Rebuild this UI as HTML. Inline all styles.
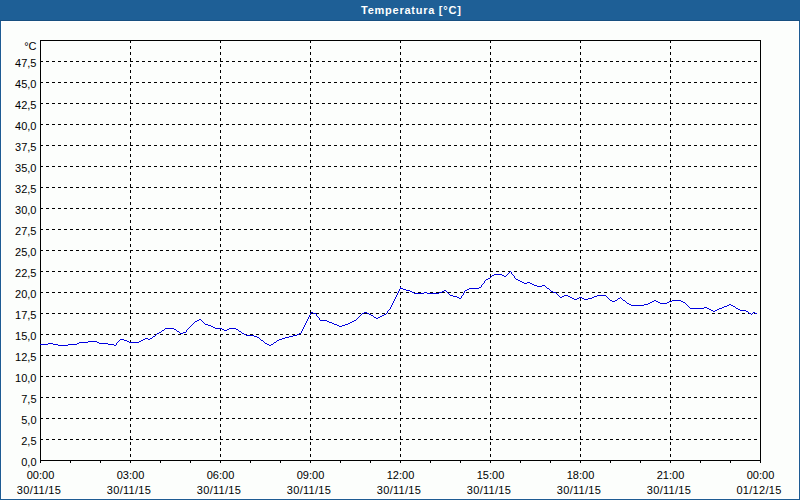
<!DOCTYPE html>
<html><head><meta charset="utf-8"><style>
html,body{margin:0;padding:0;background:#fcfefc;}
body{width:800px;height:500px;overflow:hidden;position:relative;font-family:"Liberation Sans",sans-serif;}
#frame{position:absolute;left:0;top:0;width:798px;height:499px;border:1px solid #1d5c93;border-top:0;background:#fcfefc;}
#inner{position:absolute;left:1px;top:21px;width:796px;height:476px;border:1px solid #fff;}
#hdr{position:absolute;left:0;top:0;width:800px;height:20px;background:#1e5f96;border-bottom:1px solid #174f80;}
#title{position:absolute;left:0;top:0;width:800px;height:21px;}
svg{position:absolute;left:0;top:0;}
.g{stroke:#000;stroke-width:1;stroke-dasharray:3 3;shape-rendering:crispEdges;}
.a{stroke:#000;stroke-width:1;shape-rendering:crispEdges;}
text{font-family:"Liberation Sans",sans-serif;font-size:11px;fill:#000;}
.t{font-weight:bold;fill:#fff;}
</style></head><body>
<div id="frame"></div><div id="inner"></div>
<div id="hdr"></div>
<svg width="800" height="500" viewBox="0 0 800 500">
<text class="t" x="361" y="14" style="letter-spacing:0.75px">Temperatura [°C]</text>
<line x1="40" y1="439.5" x2="760" y2="439.5" class="g"/>
<line x1="40" y1="418.5" x2="760" y2="418.5" class="g"/>
<line x1="40" y1="397.5" x2="760" y2="397.5" class="g"/>
<line x1="40" y1="376.5" x2="760" y2="376.5" class="g"/>
<line x1="40" y1="355.5" x2="760" y2="355.5" class="g"/>
<line x1="40" y1="334.5" x2="760" y2="334.5" class="g"/>
<line x1="40" y1="313.5" x2="760" y2="313.5" class="g"/>
<line x1="40" y1="292.5" x2="760" y2="292.5" class="g"/>
<line x1="40" y1="271.5" x2="760" y2="271.5" class="g"/>
<line x1="40" y1="250.5" x2="760" y2="250.5" class="g"/>
<line x1="40" y1="229.5" x2="760" y2="229.5" class="g"/>
<line x1="40" y1="208.5" x2="760" y2="208.5" class="g"/>
<line x1="40" y1="187.5" x2="760" y2="187.5" class="g"/>
<line x1="40" y1="166.5" x2="760" y2="166.5" class="g"/>
<line x1="40" y1="145.5" x2="760" y2="145.5" class="g"/>
<line x1="40" y1="124.5" x2="760" y2="124.5" class="g"/>
<line x1="40" y1="103.5" x2="760" y2="103.5" class="g"/>
<line x1="40" y1="82.5" x2="760" y2="82.5" class="g"/>
<line x1="40" y1="61.5" x2="760" y2="61.5" class="g"/>
<line x1="130.5" y1="40" x2="130.5" y2="460" class="g"/>
<line x1="220.5" y1="40" x2="220.5" y2="460" class="g"/>
<line x1="310.5" y1="40" x2="310.5" y2="460" class="g"/>
<line x1="400.5" y1="40" x2="400.5" y2="460" class="g"/>
<line x1="490.5" y1="40" x2="490.5" y2="460" class="g"/>
<line x1="580.5" y1="40" x2="580.5" y2="460" class="g"/>
<line x1="670.5" y1="40" x2="670.5" y2="460" class="g"/>
<line x1="40.5" y1="460" x2="40.5" y2="463" class="a"/>
<line x1="70.5" y1="460" x2="70.5" y2="463" class="a"/>
<line x1="100.5" y1="460" x2="100.5" y2="463" class="a"/>
<line x1="130.5" y1="460" x2="130.5" y2="463" class="a"/>
<line x1="160.5" y1="460" x2="160.5" y2="463" class="a"/>
<line x1="190.5" y1="460" x2="190.5" y2="463" class="a"/>
<line x1="220.5" y1="460" x2="220.5" y2="463" class="a"/>
<line x1="250.5" y1="460" x2="250.5" y2="463" class="a"/>
<line x1="280.5" y1="460" x2="280.5" y2="463" class="a"/>
<line x1="310.5" y1="460" x2="310.5" y2="463" class="a"/>
<line x1="340.5" y1="460" x2="340.5" y2="463" class="a"/>
<line x1="370.5" y1="460" x2="370.5" y2="463" class="a"/>
<line x1="400.5" y1="460" x2="400.5" y2="463" class="a"/>
<line x1="430.5" y1="460" x2="430.5" y2="463" class="a"/>
<line x1="460.5" y1="460" x2="460.5" y2="463" class="a"/>
<line x1="490.5" y1="460" x2="490.5" y2="463" class="a"/>
<line x1="520.5" y1="460" x2="520.5" y2="463" class="a"/>
<line x1="550.5" y1="460" x2="550.5" y2="463" class="a"/>
<line x1="580.5" y1="460" x2="580.5" y2="463" class="a"/>
<line x1="610.5" y1="460" x2="610.5" y2="463" class="a"/>
<line x1="640.5" y1="460" x2="640.5" y2="463" class="a"/>
<line x1="670.5" y1="460" x2="670.5" y2="463" class="a"/>
<line x1="700.5" y1="460" x2="700.5" y2="463" class="a"/>
<line x1="730.5" y1="460" x2="730.5" y2="463" class="a"/>
<line x1="760.5" y1="460" x2="760.5" y2="463" class="a"/>
<rect x="40.5" y="40.5" width="720" height="420" class="a" fill="none"/>
<line x1="40" y1="460.5" x2="41" y2="460.5" class="a"/>
<line x1="40" y1="439.5" x2="41" y2="439.5" class="a"/>
<line x1="40" y1="418.5" x2="41" y2="418.5" class="a"/>
<line x1="40" y1="397.5" x2="41" y2="397.5" class="a"/>
<line x1="40" y1="376.5" x2="41" y2="376.5" class="a"/>
<line x1="40" y1="355.5" x2="41" y2="355.5" class="a"/>
<line x1="40" y1="334.5" x2="41" y2="334.5" class="a"/>
<line x1="40" y1="313.5" x2="41" y2="313.5" class="a"/>
<line x1="40" y1="292.5" x2="41" y2="292.5" class="a"/>
<line x1="40" y1="271.5" x2="41" y2="271.5" class="a"/>
<line x1="40" y1="250.5" x2="41" y2="250.5" class="a"/>
<line x1="40" y1="229.5" x2="41" y2="229.5" class="a"/>
<line x1="40" y1="208.5" x2="41" y2="208.5" class="a"/>
<line x1="40" y1="187.5" x2="41" y2="187.5" class="a"/>
<line x1="40" y1="166.5" x2="41" y2="166.5" class="a"/>
<line x1="40" y1="145.5" x2="41" y2="145.5" class="a"/>
<line x1="40" y1="124.5" x2="41" y2="124.5" class="a"/>
<line x1="40" y1="103.5" x2="41" y2="103.5" class="a"/>
<line x1="40" y1="82.5" x2="41" y2="82.5" class="a"/>
<line x1="40" y1="61.5" x2="41" y2="61.5" class="a"/>
<path d="M510 271h1v1h-1zM509 272h1v1h-1zM511 272h1v1h-1zM508 273h1v1h-1zM511 273h1v1h-1zM494 274h8v1h-8zM507 274h1v1h-1zM512 274h1v1h-1zM492 275h2v1h-2zM502 275h2v1h-2zM506 275h1v1h-1zM513 275h1v1h-1zM491 276h1v1h-1zM504 276h2v1h-2zM514 276h1v1h-1zM490 277h1v1h-1zM514 277h1v1h-1zM488 278h2v1h-2zM515 278h1v1h-1zM486 279h2v1h-2zM516 279h2v1h-2zM485 280h1v1h-1zM518 280h2v1h-2zM484 281h1v1h-1zM520 281h2v1h-2zM484 282h1v1h-1zM522 282h2v1h-2zM527 282h3v1h-3zM483 283h1v1h-1zM524 283h3v1h-3zM530 283h2v1h-2zM482 284h1v1h-1zM532 284h2v1h-2zM481 285h1v1h-1zM534 285h3v1h-3zM542 285h3v1h-3zM481 286h1v1h-1zM537 286h5v1h-5zM545 286h1v1h-1zM400 287h1v1h-1zM479 287h2v1h-2zM546 287h1v1h-1zM400 288h3v1h-3zM469 288h10v1h-10zM547 288h2v1h-2zM399 289h1v1h-1zM403 289h3v1h-3zM467 289h2v1h-2zM549 289h1v1h-1zM399 290h1v1h-1zM406 290h4v1h-4zM444 290h2v1h-2zM465 290h2v1h-2zM550 290h1v1h-1zM398 291h1v1h-1zM410 291h2v1h-2zM442 291h2v1h-2zM446 291h1v1h-1zM464 291h1v1h-1zM551 291h2v1h-2zM398 292h1v1h-1zM412 292h2v1h-2zM424 292h3v1h-3zM439 292h3v1h-3zM447 292h1v1h-1zM464 292h1v1h-1zM553 292h3v1h-3zM397 293h1v1h-1zM414 293h10v1h-10zM427 293h12v1h-12zM448 293h1v1h-1zM463 293h1v1h-1zM556 293h1v1h-1zM397 294h1v1h-1zM449 294h1v1h-1zM463 294h1v1h-1zM557 294h1v1h-1zM396 295h1v1h-1zM450 295h3v1h-3zM462 295h1v1h-1zM558 295h1v1h-1zM564 295h4v1h-4zM597 295h9v1h-9zM396 296h1v1h-1zM453 296h4v1h-4zM461 296h1v1h-1zM559 296h1v1h-1zM562 296h2v1h-2zM568 296h2v1h-2zM594 296h3v1h-3zM606 296h1v1h-1zM395 297h1v1h-1zM457 297h2v1h-2zM461 297h1v1h-1zM560 297h2v1h-2zM570 297h2v1h-2zM579 297h3v1h-3zM592 297h2v1h-2zM607 297h1v1h-1zM620 297h1v1h-1zM395 298h1v1h-1zM459 298h2v1h-2zM572 298h2v1h-2zM577 298h2v1h-2zM582 298h2v1h-2zM588 298h4v1h-4zM608 298h1v1h-1zM618 298h2v1h-2zM621 298h1v1h-1zM394 299h1v1h-1zM574 299h3v1h-3zM584 299h4v1h-4zM609 299h1v1h-1zM617 299h1v1h-1zM622 299h1v1h-1zM394 300h1v1h-1zM610 300h2v1h-2zM615 300h2v1h-2zM623 300h2v1h-2zM654 300h2v1h-2zM672 300h9v1h-9zM393 301h1v1h-1zM612 301h3v1h-3zM625 301h1v1h-1zM652 301h2v1h-2zM656 301h2v1h-2zM669 301h3v1h-3zM681 301h2v1h-2zM393 302h1v1h-1zM626 302h1v1h-1zM650 302h2v1h-2zM658 302h2v1h-2zM667 302h2v1h-2zM683 302h2v1h-2zM392 303h1v1h-1zM627 303h2v1h-2zM648 303h2v1h-2zM660 303h7v1h-7zM685 303h1v1h-1zM392 304h1v1h-1zM629 304h2v1h-2zM644 304h4v1h-4zM686 304h1v1h-1zM729 304h2v1h-2zM391 305h1v1h-1zM631 305h13v1h-13zM687 305h1v1h-1zM727 305h2v1h-2zM731 305h2v1h-2zM391 306h1v1h-1zM688 306h1v1h-1zM724 306h3v1h-3zM733 306h2v1h-2zM390 307h1v1h-1zM689 307h1v1h-1zM704 307h3v1h-3zM722 307h2v1h-2zM735 307h1v1h-1zM390 308h1v1h-1zM690 308h14v1h-14zM707 308h2v1h-2zM719 308h3v1h-3zM736 308h2v1h-2zM389 309h1v1h-1zM709 309h2v1h-2zM717 309h2v1h-2zM738 309h2v1h-2zM388 310h1v1h-1zM711 310h2v1h-2zM715 310h2v1h-2zM740 310h6v1h-6zM387 311h1v1h-1zM713 311h2v1h-2zM746 311h2v1h-2zM311 312h2v1h-2zM364 312h3v1h-3zM387 312h1v1h-1zM748 312h1v1h-1zM753 312h2v1h-2zM310 313h1v1h-1zM313 313h3v1h-3zM362 313h2v1h-2zM367 313h2v1h-2zM386 313h1v1h-1zM749 313h2v1h-2zM752 313h1v1h-1zM755 313h2v1h-2zM310 314h1v1h-1zM316 314h1v1h-1zM361 314h1v1h-1zM369 314h2v1h-2zM384 314h2v1h-2zM751 314h1v1h-1zM309 315h1v1h-1zM316 315h1v1h-1zM360 315h1v1h-1zM371 315h2v1h-2zM382 315h2v1h-2zM309 316h1v1h-1zM317 316h1v1h-1zM359 316h1v1h-1zM373 316h1v1h-1zM380 316h2v1h-2zM308 317h1v1h-1zM318 317h1v1h-1zM358 317h1v1h-1zM374 317h2v1h-2zM378 317h2v1h-2zM308 318h1v1h-1zM319 318h1v1h-1zM357 318h1v1h-1zM376 318h2v1h-2zM199 319h2v1h-2zM307 319h1v1h-1zM319 319h1v1h-1zM356 319h1v1h-1zM197 320h2v1h-2zM201 320h1v1h-1zM307 320h1v1h-1zM320 320h7v1h-7zM354 320h2v1h-2zM195 321h2v1h-2zM202 321h1v1h-1zM306 321h1v1h-1zM327 321h2v1h-2zM352 321h2v1h-2zM194 322h1v1h-1zM203 322h1v1h-1zM306 322h1v1h-1zM329 322h3v1h-3zM350 322h2v1h-2zM193 323h1v1h-1zM204 323h1v1h-1zM305 323h1v1h-1zM332 323h2v1h-2zM348 323h2v1h-2zM192 324h1v1h-1zM205 324h3v1h-3zM305 324h1v1h-1zM334 324h3v1h-3zM345 324h3v1h-3zM191 325h1v1h-1zM208 325h3v1h-3zM304 325h1v1h-1zM337 325h2v1h-2zM342 325h3v1h-3zM190 326h1v1h-1zM211 326h2v1h-2zM304 326h1v1h-1zM339 326h3v1h-3zM189 327h1v1h-1zM213 327h2v1h-2zM303 327h1v1h-1zM165 328h9v1h-9zM188 328h1v1h-1zM215 328h7v1h-7zM229 328h7v1h-7zM303 328h1v1h-1zM164 329h1v1h-1zM174 329h2v1h-2zM187 329h1v1h-1zM222 329h2v1h-2zM227 329h2v1h-2zM236 329h2v1h-2zM302 329h1v1h-1zM162 330h2v1h-2zM176 330h1v1h-1zM186 330h1v1h-1zM224 330h3v1h-3zM238 330h1v1h-1zM302 330h1v1h-1zM161 331h1v1h-1zM177 331h2v1h-2zM186 331h1v1h-1zM239 331h2v1h-2zM301 331h1v1h-1zM159 332h2v1h-2zM179 332h1v1h-1zM183 332h3v1h-3zM241 332h1v1h-1zM301 332h1v1h-1zM157 333h2v1h-2zM180 333h3v1h-3zM242 333h2v1h-2zM299 333h2v1h-2zM156 334h1v1h-1zM244 334h2v1h-2zM297 334h2v1h-2zM155 335h1v1h-1zM246 335h8v1h-8zM293 335h4v1h-4zM153 336h2v1h-2zM254 336h3v1h-3zM289 336h4v1h-4zM152 337h1v1h-1zM257 337h2v1h-2zM285 337h4v1h-4zM145 338h3v1h-3zM150 338h2v1h-2zM259 338h1v1h-1zM282 338h3v1h-3zM120 339h4v1h-4zM143 339h2v1h-2zM148 339h2v1h-2zM260 339h1v1h-1zM279 339h3v1h-3zM119 340h1v1h-1zM124 340h3v1h-3zM141 340h2v1h-2zM261 340h2v1h-2zM277 340h2v1h-2zM88 341h9v1h-9zM118 341h1v1h-1zM127 341h2v1h-2zM139 341h2v1h-2zM263 341h1v1h-1zM276 341h1v1h-1zM79 342h9v1h-9zM97 342h2v1h-2zM117 342h1v1h-1zM129 342h10v1h-10zM264 342h1v1h-1zM274 342h2v1h-2zM48 343h5v1h-5zM77 343h2v1h-2zM99 343h9v1h-9zM116 343h1v1h-1zM265 343h2v1h-2zM273 343h1v1h-1zM40 344h8v1h-8zM53 344h5v1h-5zM68 344h9v1h-9zM108 344h6v1h-6zM116 344h1v1h-1zM267 344h2v1h-2zM271 344h2v1h-2zM58 345h10v1h-10zM114 345h2v1h-2zM269 345h2v1h-2z" fill="#0000e0" shape-rendering="crispEdges"/>
<text x="36.5" y="466" text-anchor="end">0,0</text>
<text x="36.5" y="445" text-anchor="end">2,5</text>
<text x="36.5" y="424" text-anchor="end">5,0</text>
<text x="36.5" y="403" text-anchor="end">7,5</text>
<text x="36.5" y="382" text-anchor="end">10,0</text>
<text x="36.5" y="361" text-anchor="end">12,5</text>
<text x="36.5" y="340" text-anchor="end">15,0</text>
<text x="36.5" y="319" text-anchor="end">17,5</text>
<text x="36.5" y="298" text-anchor="end">20,0</text>
<text x="36.5" y="277" text-anchor="end">22,5</text>
<text x="36.5" y="256" text-anchor="end">25,0</text>
<text x="36.5" y="235" text-anchor="end">27,5</text>
<text x="36.5" y="214" text-anchor="end">30,0</text>
<text x="36.5" y="193" text-anchor="end">32,5</text>
<text x="36.5" y="172" text-anchor="end">35,0</text>
<text x="36.5" y="151" text-anchor="end">37,5</text>
<text x="36.5" y="130" text-anchor="end">40,0</text>
<text x="36.5" y="109" text-anchor="end">42,5</text>
<text x="36.5" y="88" text-anchor="end">45,0</text>
<text x="36.5" y="67" text-anchor="end">47,5</text>
<text x="36.5" y="50" text-anchor="end">°C</text>
<text x="40.5" y="479" text-anchor="middle">00:00</text>
<text x="39.0" y="494" text-anchor="middle" style="letter-spacing:0.3px">30/11/15</text>
<text x="130.5" y="479" text-anchor="middle">03:00</text>
<text x="129.0" y="494" text-anchor="middle" style="letter-spacing:0.3px">30/11/15</text>
<text x="220.5" y="479" text-anchor="middle">06:00</text>
<text x="219.0" y="494" text-anchor="middle" style="letter-spacing:0.3px">30/11/15</text>
<text x="310.5" y="479" text-anchor="middle">09:00</text>
<text x="309.0" y="494" text-anchor="middle" style="letter-spacing:0.3px">30/11/15</text>
<text x="400.5" y="479" text-anchor="middle">12:00</text>
<text x="399.0" y="494" text-anchor="middle" style="letter-spacing:0.3px">30/11/15</text>
<text x="490.5" y="479" text-anchor="middle">15:00</text>
<text x="489.0" y="494" text-anchor="middle" style="letter-spacing:0.3px">30/11/15</text>
<text x="580.5" y="479" text-anchor="middle">18:00</text>
<text x="579.0" y="494" text-anchor="middle" style="letter-spacing:0.3px">30/11/15</text>
<text x="670.5" y="479" text-anchor="middle">21:00</text>
<text x="669.0" y="494" text-anchor="middle" style="letter-spacing:0.3px">30/11/15</text>
<text x="760.5" y="479" text-anchor="middle">00:00</text>
<text x="759.0" y="494" text-anchor="middle" style="letter-spacing:0.3px">01/12/15</text>
</svg>
</body></html>
